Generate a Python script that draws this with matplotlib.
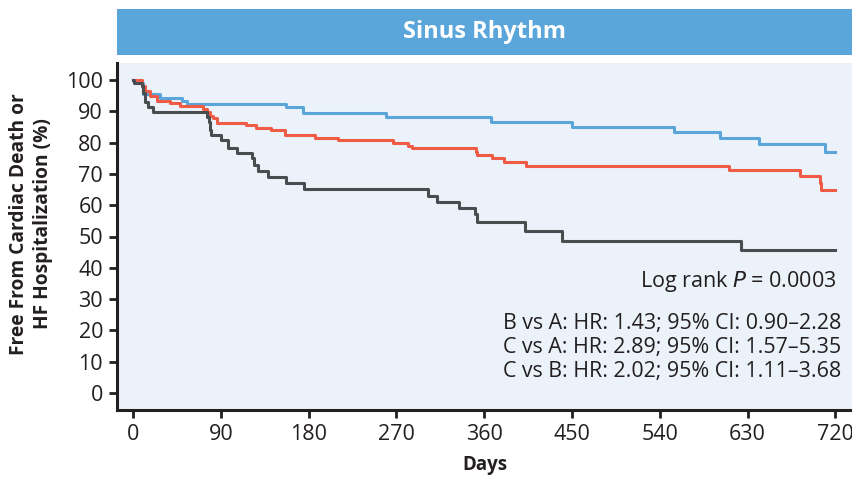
import matplotlib
matplotlib.use('Agg')
import matplotlib.pyplot as plt
from matplotlib.patches import Rectangle

plt.rcParams['font.family'] = ['Open Sans', 'DejaVu Sans']

# Kaplan-Meier curves (days, % event free)
a_days = [0, 3, 10.6, 27.7, 49.9, 55, 157, 174, 259, 366.5, 449.5, 554.6, 602, 642, 709.6, 720]
a_surv = [100, 99.1, 95.4, 94.3, 93.4, 92.4, 91.5, 89.4, 88.1, 86.7, 85.1, 83.3, 81.5, 79.6, 77.1, 77.1]

b_days = [0, 8.9, 12.3, 17.5, 24.3, 38, 48, 72, 75.4, 78.8, 82.2, 86.3, 115.6, 126.5, 141.9,
          155.6, 186.4, 210, 266.7, 282, 285.5, 351.4, 352.8, 367.5, 380.4, 402.6, 610.6,
          683.4, 704.5, 705.6, 720]
b_surv = [100, 97.9, 96.3, 95, 93.3, 92.5, 91.7, 90.6, 89.6, 88.5, 87.8, 86.2, 85.5, 84.8, 83.9,
          82.4, 81.6, 80.7, 79.8, 78.9, 78.1, 77.1, 76, 75, 73.9, 72.5, 71.1,
          69.3, 67.2, 64.9, 64.9]

c_days = [0, 1, 9, 10.6, 12.3, 15, 20, 75.5, 78, 79, 80, 90.2, 97.7, 106.2, 122.3, 124.3,
          127.7, 138.6, 156.4, 175.5, 302, 311.8, 334, 350.4, 353, 401.6, 440, 623.6, 720]
c_surv = [100, 98.9, 97.9, 95.7, 93.1, 91.5, 89.6, 88.3, 86.7, 84, 82.4, 80.8, 78.4, 76.8, 75, 72.8,
          71, 68.9, 67.2, 65.3, 63, 61, 59.1, 57.1, 54.5, 51.9, 48.7, 45.7, 45.7]

x_ticks = list(range(0, 721, 90))
y_ticks = list(range(0, 101, 10))

stats_lines = [
    'B vs A: HR: 1.43; 95% CI: 0.90\u20132.28',
    'C vs A: HR: 2.89; 95% CI: 1.57\u20135.35',
    'C vs B: HR: 2.02; 95% CI: 1.11\u20133.68',
]

ink = '#231F20'

fig = plt.figure(figsize=(8.53, 4.82), dpi=100)
ax = fig.add_axes([117 / 853, 72 / 482, 1 - 117 / 853, 347 / 482])
ax.set_facecolor('#EBF2FA')

ax.step(a_days, a_surv, where='post', color='#5AA5DA', lw=2.2)
ax.step(b_days, b_surv, where='post', color='#EF5B45', lw=2.2)
ax.step(c_days, c_surv, where='post', color='#4A4D50', lw=2.2)

ax.set_xlim(-16.4, 738)
ax.set_ylim(-5.4, 105.4)
ax.set_xticks(x_ticks)
ax.set_yticks(y_ticks)
ax.tick_params(direction='out', length=6, width=2, labelsize=15.5, color=ink,
               labelcolor=ink, pad=4)
for side in ['top', 'right']:
    ax.spines[side].set_visible(False)
for side in ['left', 'bottom']:
    ax.spines[side].set_linewidth(2.2)
    ax.spines[side].set_color(ink)

ax.set_xlabel('Days', fontsize=13.5, fontweight='bold', color=ink, labelpad=7)

fig.text(31 / 853, 1 - 224 / 482, 'Free From Cardiac Death or\nHF Hospitalization (%)',
         rotation=90, ha='center', va='center', multialignment='center',
         fontsize=13.8, fontweight='bold', color=ink, linespacing=1.25)

ax.text(836 / 853, 1 - 282 / 482, 'Log rank $\\it{P}$ = 0.0003', ha='right', va='center',
        fontsize=15.5, color=ink, transform=fig.transFigure)
for i, line in enumerate(stats_lines):
    ax.text(503 / 853, 1 - (323 + i * 24.5) / 482, line, ha='left', va='center',
            fontsize=15.4, color=ink, transform=fig.transFigure)

# title band
fig.patches.append(Rectangle((117 / 853, 1 - 55 / 482), 1 - 117 / 853, 46 / 482,
                             transform=fig.transFigure, facecolor='#5AA5DA', edgecolor='none'))
fig.text(485 / 853, 1 - 32 / 482, 'Sinus Rhythm', ha='center', va='center',
         fontsize=17, fontweight='bold', color='white')

plt.savefig('out.png', dpi=100, facecolor='white')
plt.close()
